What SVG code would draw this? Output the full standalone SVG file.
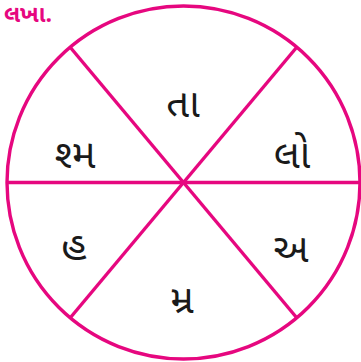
<svg xmlns="http://www.w3.org/2000/svg" width="361" height="362" viewBox="0 0 361 362">
<style>
.ln{stroke:#E6077F;stroke-width:3.4;fill:none}
.lb{font-family:"Noto Sans Gujarati","Noto Sans","Lohit Gujarati",sans-serif;font-size:40px;fill:#1a1a1a;text-anchor:middle}
.tt{font-family:"Noto Sans Gujarati","Noto Sans","Lohit Gujarati",sans-serif;font-size:23px;font-weight:bold;fill:#E6077F}
</style>
<rect width="361" height="362" fill="#fff"/>
<text class="tt" x="4" y="22">લખા.</text>
<g id="connectors">
<circle class="ln" cx="183.5" cy="182.5" r="176.5"/>
<line class="ln" x1="7" y1="182.5" x2="360" y2="182.5"/>
<line class="ln" x1="70" y1="47" x2="296.5" y2="317.5"/>
<line class="ln" x1="296.5" y1="47.5" x2="70.5" y2="317.5"/>
</g>
<g id="n1"><text class="lb" x="183" y="117">તા</text></g>
<g id="n2"><text class="lb" x="292" y="168">લો</text></g>
<g id="n3"><text class="lb" x="291" y="262">અ</text></g>
<g id="n4"><text class="lb" x="182" y="313">મ્ર</text></g>
<g id="n5"><text class="lb" x="74" y="260">હ</text></g>
<g id="n6"><text class="lb" x="75" y="168">શ્મ</text></g>
</svg>
